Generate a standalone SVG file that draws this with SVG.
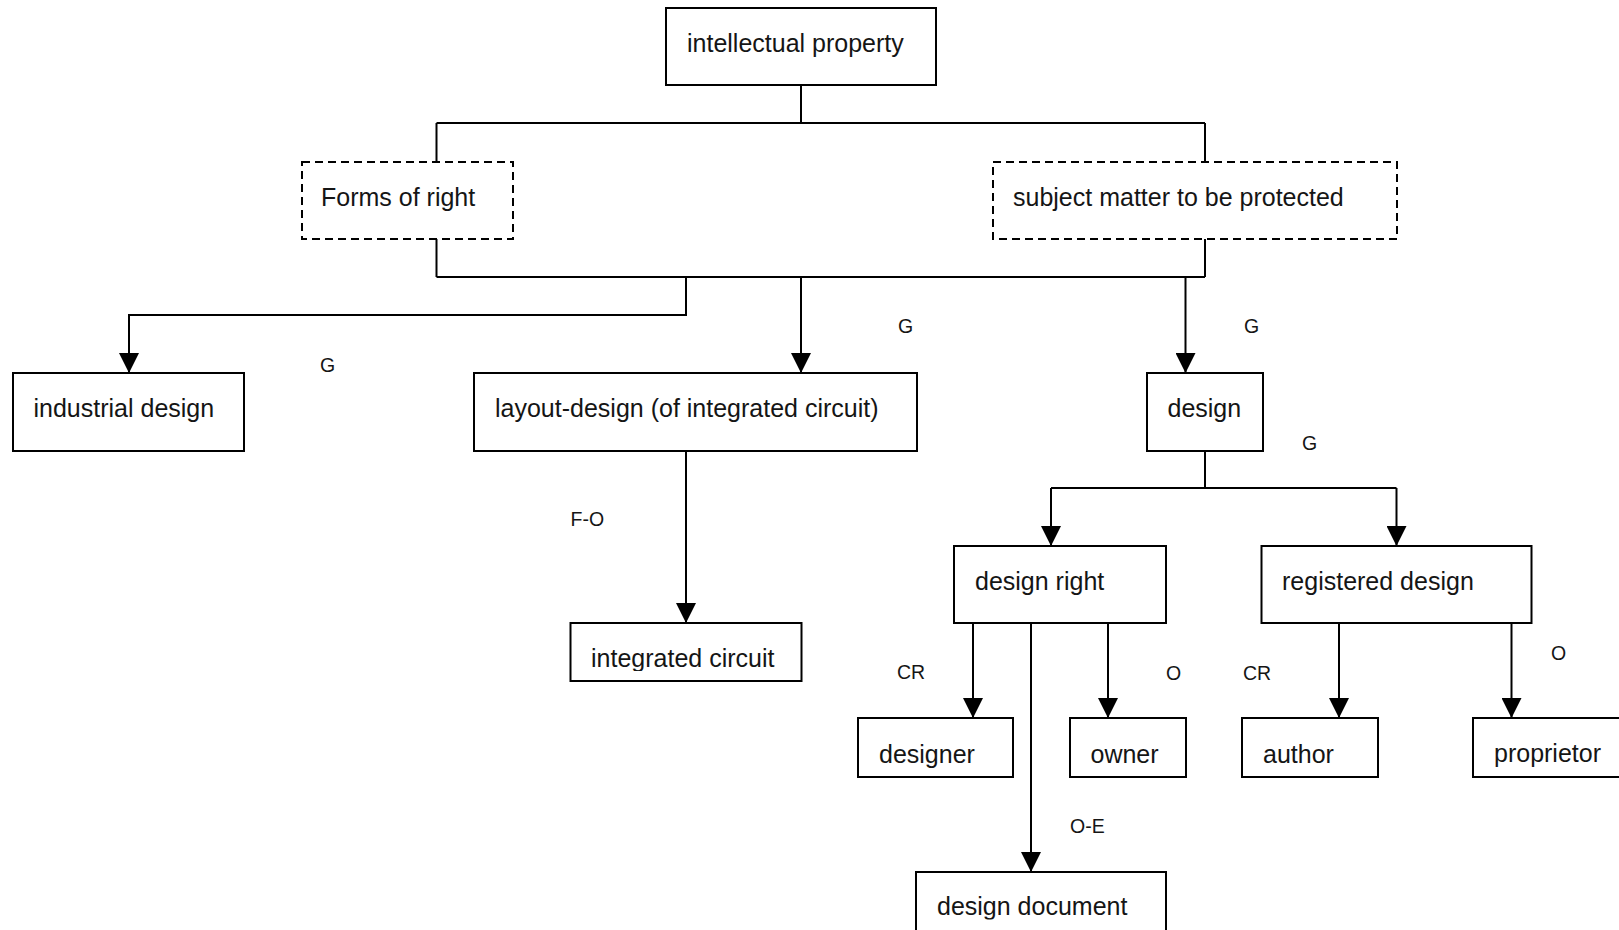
<svg xmlns="http://www.w3.org/2000/svg" width="1619" height="930" viewBox="0 0 1619 930">
<style>
.box{fill:#fff;stroke:#000;stroke-width:2}
.dash{fill:#fff;stroke:#000;stroke-width:2;stroke-dasharray:8 5}
.t{font-family:"Liberation Sans",Arial,sans-serif;font-size:25px;fill:#151515}
.l{font-family:"Liberation Sans",Arial,sans-serif;font-size:19.5px;fill:#151515}
.c{fill:none;stroke:#000;stroke-width:2}
.a{fill:none;stroke:#000;stroke-width:2;marker-end:url(#arr)}
</style>
<defs>
<marker id="arr" viewBox="0 0 20 20" refX="20" refY="10" markerWidth="20" markerHeight="20" markerUnits="userSpaceOnUse" orient="auto">
<path d="M0,0 L20,10 L0,20 z" fill="#000"/>
</marker>
<clipPath id="clipIC"><rect x="570" y="623" width="232" height="48"/></clipPath>
<clipPath id="clipDG"><rect x="858" y="718" width="155" height="50"/></clipPath>
<clipPath id="clipDD"><rect x="916" y="872" width="250" height="47.5"/></clipPath>
</defs>

<g id="connectors">
<path class="c" d="M801 85 V123"/>
<path class="c" d="M436.5 123 H1205"/>
<path class="c" d="M436.5 123 V162"/>
<path class="c" d="M1205 123 V162"/>
<path class="c" d="M436.5 239 V277"/>
<path class="c" d="M1205 239 V277"/>
<path class="c" d="M436.5 277 H1205"/>
<path class="a" d="M686 277 V315 H129 V373"/>
<path class="a" d="M801 277 V373"/>
<path class="a" d="M1185.5 277 V373"/>
<path class="a" d="M686 451 V623"/>
<path class="c" d="M1205 451 V488"/>
<path class="c" d="M1051 488 H1396.5"/>
<path class="a" d="M1051 488 V546"/>
<path class="a" d="M1396.5 488 V546"/>
<path class="a" d="M973 623 V718"/>
<path class="a" d="M1108 623 V718"/>
<path class="a" d="M1031 623 V872"/>
<path class="a" d="M1339 623 V718"/>
<path class="a" d="M1511.5 623 V718"/>
</g>

<g id="node-ip"><rect class="box" x="666" y="8" width="270" height="77"/><text class="t" x="687" y="52">intellectual property</text></g>
<g id="node-forms"><rect class="dash" x="302" y="162" width="211" height="77"/><text class="t" x="321" y="206">Forms of right</text></g>
<g id="node-subject"><rect class="dash" x="993" y="162" width="404" height="77"/><text class="t" x="1013" y="206">subject matter to be protected</text></g>
<g id="node-industrial"><rect class="box" x="13" y="373" width="231" height="78"/><text class="t" x="33.5" y="416.5">industrial design</text></g>
<g id="node-layout"><rect class="box" x="474" y="373" width="443" height="78"/><text class="t" x="495" y="416.5">layout-design (of integrated circuit)</text></g>
<g id="node-design"><rect class="box" x="1147" y="373" width="116" height="78"/><text class="t" x="1167.5" y="416.5">design</text></g>
<g id="node-integrated"><rect class="box" x="570.5" y="623" width="231" height="58"/><text class="t" x="591" y="666.5" clip-path="url(#clipIC)">integrated circuit</text></g>
<g id="node-designright"><rect class="box" x="954" y="546" width="212" height="77"/><text class="t" x="975" y="589.5">design right</text></g>
<g id="node-registered"><rect class="box" x="1261.5" y="546" width="270" height="77"/><text class="t" x="1282" y="590">registered design</text></g>
<g id="node-designer"><rect class="box" x="858" y="718" width="155" height="59"/><text class="t" x="879" y="763" clip-path="url(#clipDG)">designer</text></g>
<g id="node-owner"><rect class="box" x="1070" y="718" width="116" height="59"/><text class="t" x="1090.5" y="763">owner</text></g>
<g id="node-author"><rect class="box" x="1242" y="718" width="136" height="59"/><text class="t" x="1263" y="763">author</text></g>
<g id="node-proprietor"><rect class="box" x="1473" y="718" width="160" height="59"/><text class="t" x="1494" y="762">proprietor</text></g>
<g id="node-designdoc"><rect class="box" x="916" y="872" width="250" height="80"/><text class="t" x="937" y="915" clip-path="url(#clipDD)">design document</text></g>

<g id="labels">
<text class="l" x="320" y="371.5">G</text>
<text class="l" x="898" y="333">G</text>
<text class="l" x="1244" y="333">G</text>
<text class="l" x="1302" y="450">G</text>
<text class="l" x="570.5" y="526">F-O</text>
<text class="l" x="897" y="679">CR</text>
<text class="l" x="1166" y="679.5">O</text>
<text class="l" x="1243" y="679.5">CR</text>
<text class="l" x="1551" y="660">O</text>
<text class="l" x="1070" y="833">O-E</text>
</g>
</svg>
